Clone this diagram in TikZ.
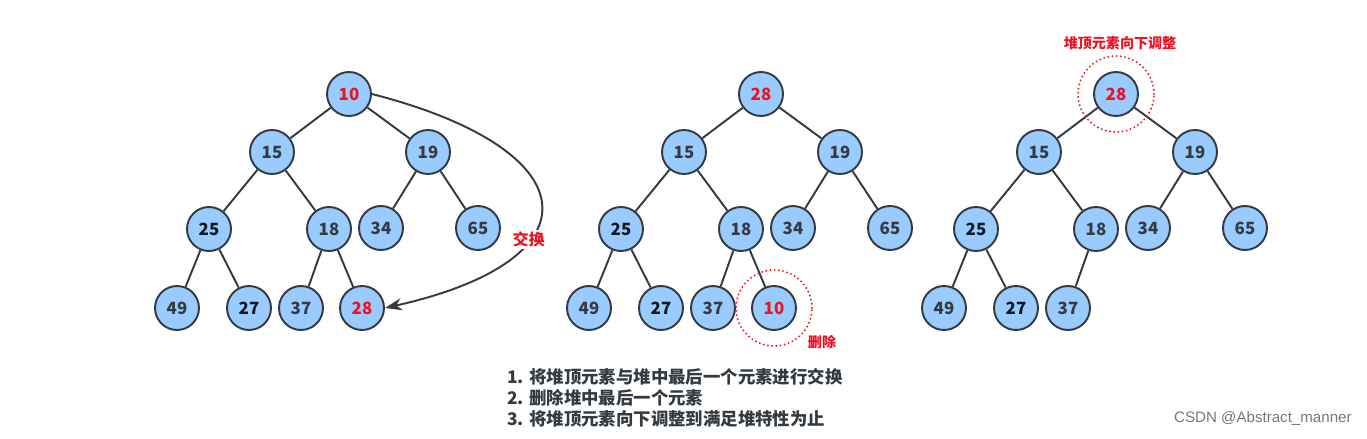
\documentclass[tikz,border=0pt]{standalone}
\usepackage{fontspec}
\setmainfont{Noto Sans CJK SC}
\newfontfamily\marcaAgua{Liberation Sans}
\usetikzlibrary{arrows.meta, positioning}
\definecolor{azulnodo}{HTML}{9ACBFF}
\definecolor{grisborde}{HTML}{333A40}
\definecolor{negronodo}{HTML}{101820}
\definecolor{rojomarca}{HTML}{EE1122}
\definecolor{grismarca}{HTML}{777777}
\colorlet{colNodo}{azulnodo}
\colorlet{colBorde}{grisborde}
\colorlet{colTexto}{grisborde}
\colorlet{colRojo}{rojomarca}
\tikzset{
  nodoHeap/.style={
    circle, draw=colBorde, line width=1.1pt, fill=colNodo,
    minimum size=0.88cm, inner sep=0pt,
    font=\bfseries\fontsize{9.6}{10}\selectfont, text=colTexto
  },
  nodoRojo/.style={nodoHeap, text=colRojo},
  nodoOscuro/.style={nodoHeap, text=negronodo},
  arista/.style={colBorde, line width=1.1pt},
  flecha/.style={-{Stealth[length=3.4mm, width=2.4mm]}, colBorde, line width=1.1pt},
  circuloPunteado/.style={colRojo, line width=1.2pt, line cap=round,
    dash pattern=on 0pt off 2.4pt},
  etiquetaRoja/.style={text=colRojo, inner sep=1pt,
    font=\bfseries\fontsize{8}{9}\selectfont},
  textoPasos/.style={text=colTexto, align=left, anchor=west, inner sep=0pt,
    font=\bfseries\fontsize{9.9}{11.9}\selectfont},
}

\begin{document}
\begin{tikzpicture}[x=0.02cm, y=-0.02cm]
  \useasboundingbox (0,0) rectangle (1367,439);
  % arbol 1: intercambio
  \node[nodoRojo] (a10) at (349,94) {10};
  \node[nodoHeap] (a15) at (272,152) {15};
  \node[nodoHeap] (a19) at (428,152) {19};
  \node[nodoOscuro] (a25) at (209,229) {25};
  \node[nodoHeap] (a18) at (329,229) {18};
  \node[nodoHeap] (a34) at (381,228) {34};
  \node[nodoHeap] (a65) at (478,228) {65};
  \node[nodoHeap] (a49) at (177,308) {49};
  \node[nodoOscuro] (a27) at (249,308) {27};
  \node[nodoHeap] (a37) at (301,308) {37};
  \node[nodoRojo] (a28) at (362,308) {28};
  \draw[arista] (a10) -- (a15) (a10) -- (a19) (a15) -- (a25) (a15) -- (a18)
    (a19) -- (a34) (a19) -- (a65) (a25) -- (a49) (a25) -- (a27)
    (a18) -- (a37) (a18) -- (a28);
  \draw[flecha] (a10.east) .. controls (590,150) and (600,260) .. (a28.east)
    node[etiquetaRoja, fill=white, pos=0.65, font=\bfseries\fontsize{9}{10}\selectfont] {交换};

  % arbol 2: borrar
  \begin{scope}[shift={(412,0)}]
    \node[nodoRojo] (b28) at (349,94) {28};
    \node[nodoHeap] (b15) at (272,152) {15};
    \node[nodoHeap] (b19) at (428,152) {19};
    \node[nodoOscuro] (b25) at (209,229) {25};
    \node[nodoHeap] (b18) at (329,229) {18};
    \node[nodoHeap] (b34) at (381,228) {34};
    \node[nodoHeap] (b65) at (478,228) {65};
    \node[nodoHeap] (b49) at (177,308) {49};
    \node[nodoOscuro] (b27) at (249,308) {27};
    \node[nodoHeap] (b37) at (301,308) {37};
    \node[nodoRojo] (b10) at (362,308) {10};
    \draw[arista] (b28) -- (b15) (b28) -- (b19) (b15) -- (b25) (b15) -- (b18)
      (b19) -- (b34) (b19) -- (b65) (b25) -- (b49) (b25) -- (b27)
      (b18) -- (b37) (b18) -- (b10);
    \draw[circuloPunteado] (b10) circle (0.76cm);
    \node[etiquetaRoja] (borrar) at (410,342) {删除};
  \end{scope}

  % arbol 3: ajustar hacia abajo
  \begin{scope}[shift={(767,0)}]
    \node[nodoRojo] (c28) at (349,94) {28};
    \node[nodoHeap] (c15) at (272,152) {15};
    \node[nodoHeap] (c19) at (428,152) {19};
    \node[nodoOscuro] (c25) at (209,229) {25};
    \node[nodoHeap] (c18) at (329,229) {18};
    \node[nodoHeap] (c34) at (381,228) {34};
    \node[nodoHeap] (c65) at (478,228) {65};
    \node[nodoHeap] (c49) at (177,308) {49};
    \node[nodoOscuro] (c27) at (249,308) {27};
    \node[nodoHeap] (c37) at (301,308) {37};
    \draw[arista] (c28) -- (c15) (c28) -- (c19) (c15) -- (c25) (c15) -- (c18)
      (c19) -- (c34) (c19) -- (c65) (c25) -- (c49) (c25) -- (c27)
      (c18) -- (c37);
    \draw[circuloPunteado] (c28) circle (0.76cm);
    \node[etiquetaRoja] (ajustar) at (353,43) {堆顶元素向下调整};
  \end{scope}

  \node[textoPasos] (pasos) at (507,398) {1. 将堆顶元素与堆中最后一个元素进行交换\\
    2. 删除堆中最后一个元素\\
    3. 将堆顶元素向下调整到满足堆特性为止};
  \node[anchor=east, inner sep=0pt, text=grismarca,
    font=\marcaAgua\fontsize{8.6}{10}\selectfont] (csdn) at (1352,419) {CSDN @Abstract\_manner};
\end{tikzpicture}
\end{document}
